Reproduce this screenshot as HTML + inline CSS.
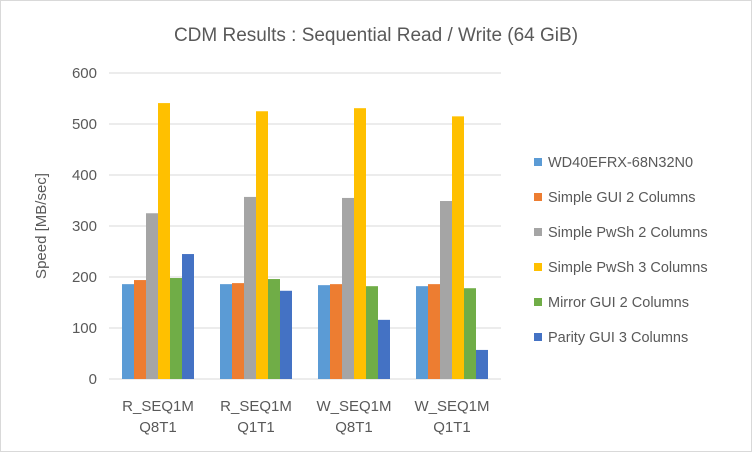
<!DOCTYPE html>
<html><head><meta charset="utf-8"><style>
body{margin:0;background:#fff}
svg{display:block;font-family:"Liberation Sans",sans-serif}
</style></head><body>
<svg id="c" width="752" height="452">
<rect x="0.5" y="0.5" width="751" height="451" fill="#fff" stroke="#d9d9d9"/>
<text x="376" y="41" text-anchor="middle" font-size="19" fill="#595959">CDM Results : Sequential Read / Write (64 GiB)</text>
<text transform="translate(46,226) rotate(-90)" text-anchor="middle" font-size="15" fill="#595959">Speed [MB/sec]</text>
<g id="grid"></g><g id="bars"></g><g id="xl"></g><g id="leg"></g>
</svg>
<script>
const categories=[["R_SEQ1M","Q8T1"],["R_SEQ1M","Q1T1"],["W_SEQ1M","Q8T1"],["W_SEQ1M","Q1T1"]];
const seriesNames=["WD40EFRX-68N32N0","Simple GUI 2 Columns","Simple PwSh 2 Columns","Simple PwSh 3 Columns","Mirror GUI 2 Columns","Parity GUI 3 Columns"];
const sWD=[186,186,184,182];
const sSimpleGui2=[194,188,186,186];
const sPwsh2=[325,357,355,349];
const sPwsh3=[541,525,531,515];
const sMirror=[198,196,182,178];
const sParity=[245,173,116,57];
const yTicks=[0,100,200,300,400,500,600];
const series=[sWD,sSimpleGui2,sPwsh2,sPwsh3,sMirror,sParity];
const colors=["#5b9bd5","#ed7d31","#a5a5a5","#ffc000","#70ad47","#4472c4"];
const NS="http://www.w3.org/2000/svg";
const x0=109,x1=501,yb=379,yt=73,ymax=600;
const y=v=>yb-(v/ymax)*(yb-yt);
const gw=(x1-x0)/categories.length,bw=12;
function mk(t,a,p){const e=document.createElementNS(NS,t);for(const k in a)e.setAttribute(k,a[k]);p.appendChild(e);return e;}
const G=document.getElementById('grid'),B=document.getElementById('bars'),X=document.getElementById('xl'),L=document.getElementById('leg');
yTicks.forEach(t=>{
 const l=mk('line',{x1:x0,x2:x1,y1:y(t),y2:y(t),stroke:'#d9d9d9','stroke-width':1},G);
 
 
 const tx=mk('text',{x:97,y:y(t)+5,'text-anchor':'end','font-size':15,fill:'#595959'},G);
 tx.textContent=t;
 
 
});
categories.forEach((c,i)=>{
 const start=x0+i*gw+(gw-bw*series.length)/2;
 series.forEach((s,j)=>{
  const r=mk('rect',{x:start+j*bw,y:y(s[i]),width:bw,height:yb-y(s[i]),fill:colors[j]},B);
  
  
 });
 c.forEach((ln,k)=>{
  const t=mk('text',{x:x0+i*gw+gw/2,y:411+k*21,'text-anchor':'middle','font-size':15,fill:'#595959'},X);
  t.textContent=ln;
  
  
 });
});
seriesNames.forEach((n,j)=>{
 const g=mk('g',{},L);
 
 
 mk('rect',{x:534,y:158+j*35,width:8,height:8,fill:colors[j]},g);
 const t=mk('text',{x:548,y:167+j*35,'font-size':14.5,fill:'#595959'},g);
 t.textContent=n;
});
</script>
</body></html>
